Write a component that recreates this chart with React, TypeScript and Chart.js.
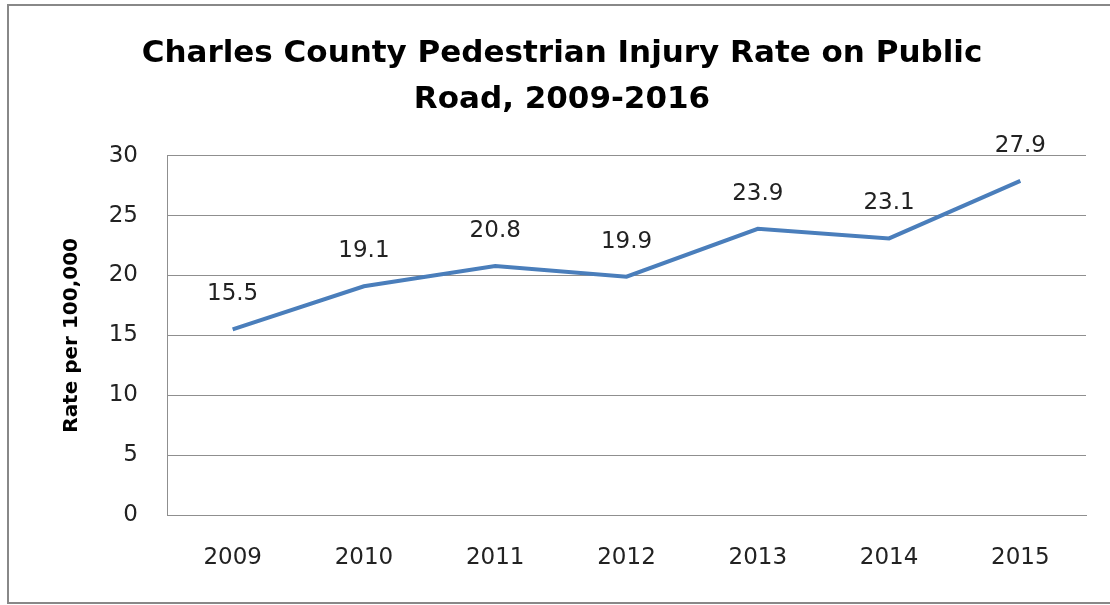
import React, { useEffect, useRef } from "react";
import { Chart, registerables } from "chart.js";

Chart.register(...registerables);

const titleLines = ["Charles County Pedestrian Injury Rate on Public", "Road, 2009-2016"];
const years = ["2009", "2010", "2011", "2012", "2013", "2014", "2015"];
const rates = [15.5, 19.1, 20.8, 19.9, 23.9, 23.1, 27.9];
const yAxisTitle = "Rate per 100,000";

const FONT = "'DejaVu Sans', sans-serif";

const framePlugin = {
  id: "frame",
  beforeDraw(chart: any) {
    const ctx = chart.ctx;
    ctx.save();
    ctx.fillStyle = "#ffffff";
    ctx.fillRect(0, 0, chart.width, chart.height);
    ctx.strokeStyle = "#888888";
    ctx.lineWidth = 2;
    ctx.strokeRect(8, 5, chart.width + 10, 598);
    ctx.restore();
  },
};

const labelPlugin = {
  id: "pointLabels",
  afterDatasetsDraw(chart: any) {
    const ctx = chart.ctx;
    const meta = chart.getDatasetMeta(0);
    const data = chart.data.datasets[0].data as number[];
    ctx.save();
    ctx.font = `23px ${FONT}`;
    ctx.fillStyle = "#222222";
    ctx.textAlign = "center";
    ctx.textBaseline = "middle";
    meta.data.forEach((pt: any, i: number) => {
      ctx.fillText(data[i].toFixed(1), pt.x, pt.y - 35);
    });
    ctx.restore();
  },
};

export default function App() {
  const ref = useRef<HTMLCanvasElement | null>(null);
  useEffect(() => {
    if (!ref.current) return;
    const chart = new Chart(ref.current, {
      type: "line",
      data: {
        labels: years,
        datasets: [
          {
            data: rates,
            borderColor: "#4A7EBB",
            borderWidth: 4,
            pointRadius: 0,
            tension: 0,
            fill: false,
          },
        ],
      },
      options: {
        animation: false,
        responsive: false,
        layout: { padding: { left: 38, right: 24, top: 6, bottom: 10 } },
        plugins: {
          legend: { display: false },
          tooltip: { enabled: false },
          title: {
            display: true,
            text: titleLines,
            color: "#000000",
            font: { family: FONT, size: 31, weight: "bold", lineHeight: 1.48 },
            padding: { top: 25, bottom: 33 },
          },
        },
        scales: {
          x: {
            offset: true,
            grid: { display: false, drawTicks: false, offset: true },
            border: { display: true, color: "#8f8f8f", width: 1 },
            ticks: { color: "#222222", font: { family: FONT, size: 23 }, padding: 29, maxRotation: 0 },
            afterFit(scale: any) {
              scale.height = 80;
            },
          },
          y: {
            min: 0,
            max: 30,
            grid: { color: "#8f8f8f", lineWidth: 1, drawTicks: false },
            border: { display: true, color: "#8f8f8f", width: 1 },
            ticks: { stepSize: 5, color: "#222222", font: { family: FONT, size: 23 }, padding: 29 },
            title: {
              display: true,
              text: yAxisTitle,
              color: "#000000",
              font: { family: FONT, size: 20, weight: "bold", lineHeight: 1.2 },
              padding: { top: 22, bottom: 0 },
            },
            afterFit(scale: any) {
              scale.width = 129;
            },
          },
        },
      },
      plugins: [framePlugin, labelPlugin],
    });
    return () => chart.destroy();
  }, []);
  return (
    <div style={{ position: "fixed", left: 0, top: 0, width: 1110, height: 605 }}>
      <canvas ref={ref} width={1110} height={605} style={{ width: 1110, height: 605, display: "block" }} />
    </div>
  );
}
